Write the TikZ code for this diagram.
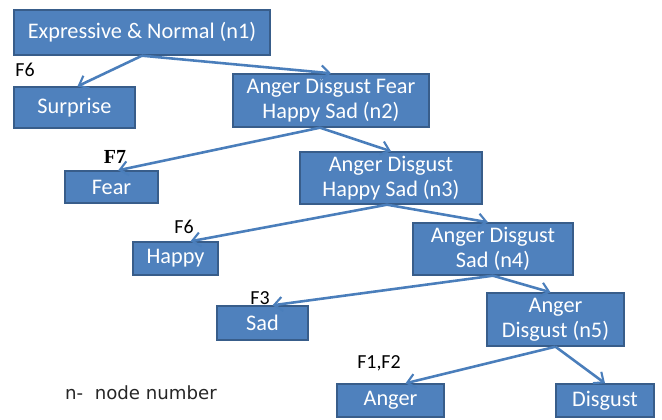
\documentclass[tikz,border=0pt]{standalone}
\usepackage{fontspec}
\setmainfont{Carlito}
\newfontfamily\timesfont{Liberation Serif}
\newfontfamily\legendfont{DejaVu Sans}
\usetikzlibrary{arrows.meta}
\definecolor{boxblue}{RGB}{79,129,189}
\definecolor{boxedge}{RGB}{56,93,138}
\definecolor{linkblue}{RGB}{74,126,187}

\begin{document}
\begin{tikzpicture}[x=0.03cm,y=-0.03cm,
  box/.style={draw=boxedge,fill=boxblue,line width=1.2pt,text=white,align=center,
    inner sep=0pt,font=\fontsize{19}{21.5}\selectfont},
  link/.style={draw=linkblue,line width=2.2pt,-{Straight Barb[length=7pt,width=12pt,line width=1.8pt]}},
  flabel/.style={font=\fontsize{17}{19}\selectfont}]
\useasboundingbox (0,0) rectangle (662,420);
\node[box,minimum width=7.68cm,minimum height=1.35cm] (n1) at (142,32.5) {Expressive \& Normal (n1)};
\node[box,minimum width=3.63cm,minimum height=1.23cm] (surprise) at (74.5,107.5) {Surprise};
\node[box,minimum width=5.88cm,minimum height=1.59cm] (n2) at (331,100.5) {Anger Disgust Fear\\Happy Sad (n2)};
\node[box,minimum width=2.79cm,minimum height=0.96cm] (fear) at (111.5,187) {Fear};
\node[box,minimum width=5.46cm,minimum height=1.56cm] (n3) at (391,178) {Anger Disgust\\Happy Sad (n3)};
\node[box,minimum width=2.55cm,minimum height=0.99cm] (happy) at (175.5,258.5) {Happy};
\node[box,minimum width=4.8cm,minimum height=1.56cm] (n4) at (493,249) {Anger Disgust\\Sad (n4)};
\node[box,minimum width=2.73cm,minimum height=1.02cm] (sad) at (262.5,323) {Sad};
\node[box,minimum width=4.11cm,minimum height=1.59cm] (n5) at (555.5,319.5) {Anger\\Disgust (n5)};
\node[box,minimum width=3.21cm,minimum height=0.99cm] (anger) at (390.5,400.5) {Anger};
\node[box,minimum width=2.94cm,minimum height=0.99cm] (disgust) at (605,400.5) {Disgust};
% feature labels
\node[flabel] (f6a) at (25,70) {F6};
\node[font=\timesfont\bfseries\fontsize{17}{19}\selectfont] (f7) at (115,157) {F7};
\node[flabel] (f6b) at (184,227) {F6};
\node[flabel] (f3) at (260,298) {F3};
\node[flabel] (f12) at (379,363) {F1,F2};
\node[font=\legendfont\fontsize{15.5}{17}\selectfont,text=black!85] (legend) at (141,393) {n-\ \ node number};
% edges
\draw[link] (n1.south) -- ([xshift=0.09cm]surprise.north);
\draw[link] (n1.south) -- (n2.north);
\draw[link] ([xshift=-0.33cm]n2.south) -- ([xshift=0.2cm]fear.north);
\draw[link] ([xshift=-0.33cm]n2.south) -- (n3.north);
\draw[link] ([xshift=-0.12cm]n3.south) -- ([xshift=0.45cm]happy.north);
\draw[link] ([xshift=-0.12cm]n3.south) -- ([xshift=-0.15cm]n4.north);
\draw[link] (n4.south) -- ([xshift=0.3cm]sad.north);
\draw[link] (n4.south) -- ([xshift=-0.15cm]n5.north);
\draw[link] (n5.south) -- ([xshift=0.45cm]anger.north);
\draw[link] (n5.south) -- (disgust.north);
\end{tikzpicture}
\end{document}
